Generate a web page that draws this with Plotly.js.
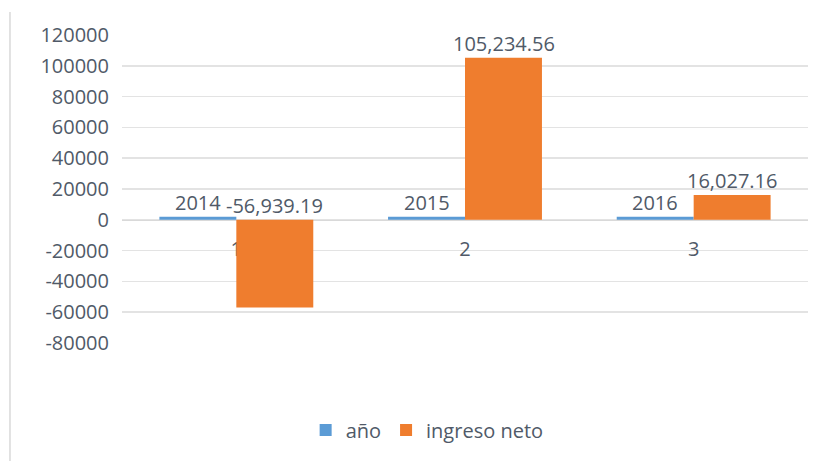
<!DOCTYPE html>
<html>
<head>
<meta charset="utf-8">
<script src="https://cdn.plot.ly/plotly-3.0.1.min.js"></script>
<style>html,body{margin:0;padding:0;background:#fff;}#chart{width:823px;height:461px;}</style>
</head>
<body>
<div id="chart"></div>
<script>
const categories = ['1', '2', '3'];
const anoValues = [2014, 2015, 2016];
const ingresoValues = [-56939.19, 105234.56, 16027.16];
const anoLabels = ['2014', '2015', '2016'];
const ingresoLabels = ['-56,939.19', '105,234.56', '16,027.16'];
const yTicks = [-80000, -60000, -40000, -20000, 0, 20000, 40000, 60000, 80000, 100000, 120000];

const txt = '#505a68';
const fontFam = 'Open Sans, sans-serif';
const fs = 20;

const traces = [
  {type: 'bar', name: 'año', x: categories, y: anoValues,
   marker: {color: '#5B9BD5'}, hoverinfo: 'skip'},
  {type: 'bar', name: 'ingreso neto', x: categories, y: ingresoValues,
   marker: {color: '#EF7D2E'}, hoverinfo: 'skip'}
];

const annotations = [];
const off = 38.5;
categories.forEach((c, i) => {
  annotations.push({x: i, y: Math.max(anoValues[i], 0), xref: 'x', yref: 'y', text: anoLabels[i],
    showarrow: false, xshift: -off, yanchor: 'bottom', yshift: -1,
    font: {family: fontFam, size: fs, color: txt}});
  annotations.push({x: i, y: Math.max(ingresoValues[i], 0), xref: 'x', yref: 'y', text: ingresoLabels[i],
    showarrow: false, xshift: off, yanchor: 'bottom', yshift: -1,
    font: {family: fontFam, size: fs, color: txt}});
});

const layout = {
  width: 823, height: 461,
  margin: {l: 122, r: 15, t: 35, b: 118},
  paper_bgcolor: '#fff', plot_bgcolor: '#fff',
  font: {family: fontFam, size: fs, color: txt},
  barmode: 'group', bargap: 0.327, bargroupgap: 0,
  xaxis: {type: 'category', range: [-0.5, 2.5], anchor: 'free', position: 0.4, layer: 'below traces',
    showline: true, linecolor: '#d9d9d9', linewidth: 1, showgrid: false, zeroline: false,
    ticks: '', ticklabelstandoff: 11, tickfont: {family: fontFam, size: fs, color: txt}},
  yaxis: {range: [-80000, 120000], tickvals: yTicks, ticktext: yTicks.map(String),
    showgrid: true, gridcolor: '#e3e3e3', gridwidth: 1.5, zeroline: false, showline: false,
    ticks: '', ticklabelstandoff: 12, tickfont: {family: fontFam, size: fs, color: txt}},
  legend: {orientation: 'h', xref: 'container', yref: 'container', x: 0.519, xanchor: 'center',
    y: 0.067, yanchor: 'middle', font: {family: fontFam, size: fs, color: txt}, itemwidth: 30,
    traceorder: 'normal'},
  annotations: annotations,
  shapes: [{type: 'line', xref: 'paper', yref: 'paper', x0: -0.1633, x1: -0.1633, y0: 1.075, y1: -0.4,
    line: {color: '#d9d9d9', width: 1.5}}],
  showlegend: true
};

Plotly.newPlot('chart', traces, layout, {displayModeBar: false, staticPlot: true});
</script>
</body>
</html>
